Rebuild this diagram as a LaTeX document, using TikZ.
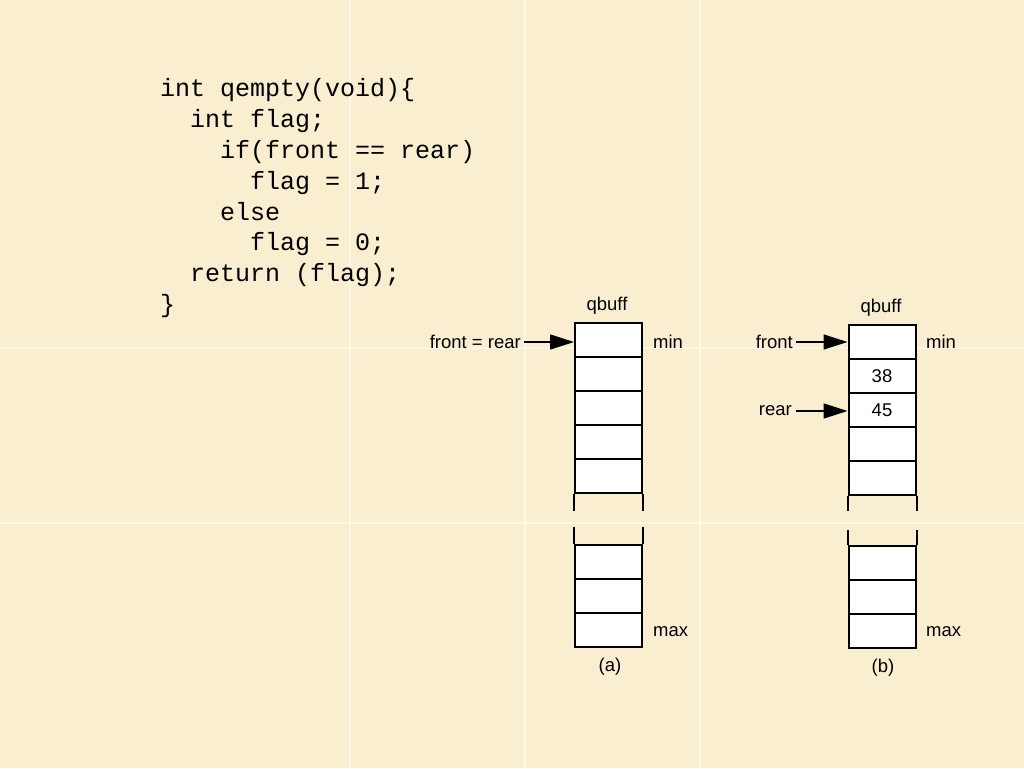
\documentclass[tikz,border=0pt]{standalone}
\usepackage{fontspec}
\setmainfont{Liberation Sans}
\newfontfamily\codefont{Liberation Mono}
\usetikzlibrary{arrows.meta}
\definecolor{parch}{RGB}{249,238,208}
\definecolor{gridc}{RGB}{253,247,230}
\tikzset{
  cell/.style={draw=black, fill=white, line width=2pt, rectangle, inner sep=0pt,
    minimum width=67pt, minimum height=34pt, font=\fontsize{18.5}{20}\selectfont},
  lbl/.style={inner sep=0pt, font=\fontsize{18.5}{20}\selectfont},
  code/.style={inner sep=0pt, anchor=base west, font=\codefont\fontsize{25}{30}\selectfont},
  side/.style={line width=2pt},
  ptr/.style={line width=1.6pt, -{Triangle[length=24pt,width=15pt]}}
}
\begin{document}
\begin{tikzpicture}[x=1pt,y=-1pt]
\fill[parch] (0,0) rectangle (1024,768);
\useasboundingbox (0,0) rectangle (1024,768);
\foreach \gx in {350,525,700} \draw[gridc, line width=1.5pt] (\gx,0) -- (\gx,768);
\foreach \gy in {348,523} \draw[gridc, line width=1.5pt] (0,\gy) -- (1024,\gy);

% code
\node[code] (c1) at (160,96) {int qempty(void)\{};
\node[code] (c2) at (190,127) {int flag;};
\node[code] (c3) at (220,158) {if(front == rear)};
\node[code] (c4) at (250,189) {flag = 1;};
\node[code] (c5) at (220,220) {else};
\node[code] (c6) at (250,250) {flag = 0;};
\node[code] (c7) at (190,281) {return (flag);};
\node[code] (c8) at (160,312) {\}};

% (a)
\node[cell] (a1) at (608.5,340) {};
\node[cell] (a2) at (608.5,374) {};
\node[cell] (a3) at (608.5,408) {};
\node[cell] (a4) at (608.5,442) {};
\node[cell] (a5) at (608.5,476) {};
\node[cell] (a6) at (608.5,562) {};
\node[cell] (a7) at (608.5,596) {};
\node[cell] (a8) at (608.5,630) {};
\draw[side] (a5.south west) -- ++(0,17);
\draw[side] (a5.south east) -- ++(0,17);
\draw[side] (a6.north west) -- ++(0,-17);
\draw[side] (a6.north east) -- ++(0,-17);
\node[lbl] (qa) at (607,306) {qbuff};
\node[lbl, anchor=west] (mina) at (653,342) {min};
\node[lbl, anchor=west] (maxa) at (653,632) {max};
\node[lbl] (capa) at (610,667) {(a)};
\node[lbl, anchor=east] (fra) at (521,342) {front = rear};
\draw[ptr] (fra.east) ++(3,0) -- (fra.east -| a1.west);

% (b)
\node[cell] (b1) at (882,342) {};
\node[cell] (b2) at (882,376) {38};
\node[cell] (b3) at (882,410) {45};
\node[cell] (b4) at (882,444) {};
\node[cell] (b5) at (882,478) {};
\node[cell] (b6) at (882,563) {};
\node[cell] (b7) at (882,597) {};
\node[cell] (b8) at (882,631) {};
\draw[side] (b5.south west) -- ++(0,15);
\draw[side] (b5.south east) -- ++(0,15);
\draw[side] (b6.north west) -- ++(0,-15);
\draw[side] (b6.north east) -- ++(0,-15);
\node[lbl] (qb) at (881,308) {qbuff};
\node[lbl, anchor=west] (minb) at (926,342) {min};
\node[lbl, anchor=west] (maxb) at (926,632) {max};
\node[lbl] (capb) at (883,668) {(b)};
\node[lbl, anchor=east] (frb) at (793,342) {front};
\node[lbl, anchor=east] (reb) at (792,411) {rear};
\draw[ptr] (frb.east) ++(3,0) -- (frb.east -| b1.west);
\draw[ptr] (reb.east) ++(4,0) -- (reb.east -| b3.west);
\end{tikzpicture}
\end{document}
